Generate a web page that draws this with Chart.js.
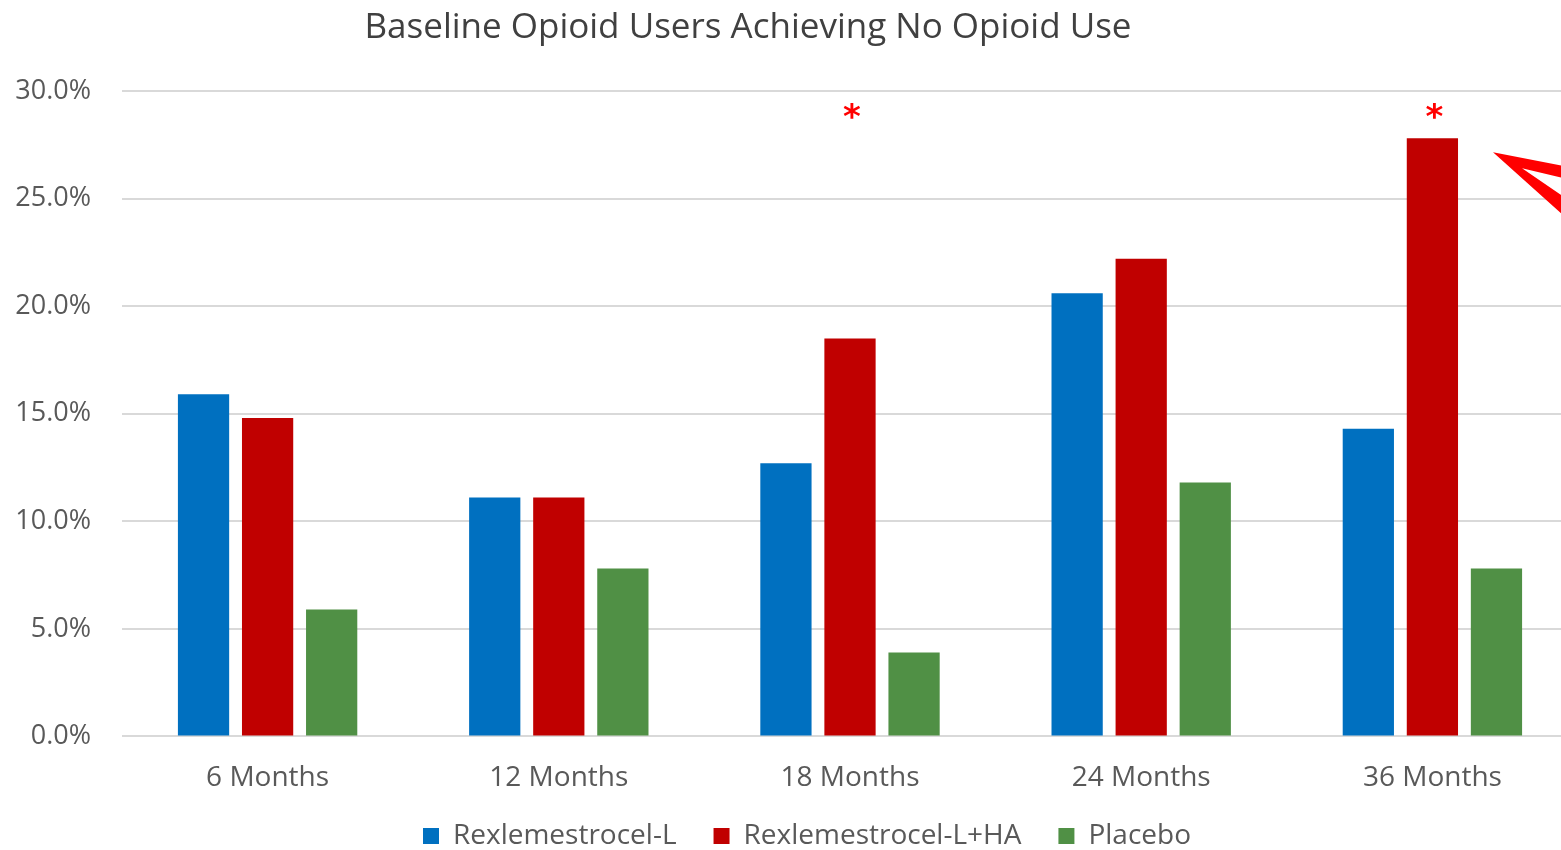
<!DOCTYPE html>
<html>
<head>
<meta charset="utf-8">
<script src="https://cdn.jsdelivr.net/npm/chart.js@4"></script>
<style>
  html, body { margin: 0; padding: 0; background: #fff; overflow: hidden; }
  #wrap { position: relative; width: 1614px; height: 850px; }
  #title {
    position: absolute; left: 0; top: 1px; width: 1496px; text-align: center;
    font-family: 'Open Sans', sans-serif; font-size: 35px; color: #404040;
  }
</style>
</head>
<body>
<div id="wrap">
  <div id="title">Baseline Opioid Users Achieving No Opioid Use</div>
  <canvas id="chart" width="1614" height="850"></canvas>
</div>
<script>
'use strict';

// ─── Data ────────────────────────────────────────────────────────────────────
const categories = ['6 Months', '12 Months', '18 Months', '24 Months', '36 Months'];
const rexL       = [15.9, 11.1, 12.7, 20.6, 14.3];
const rexLHA     = [14.8, 11.1, 18.5, 22.2, 27.8];
const placebo    = [5.9, 7.8, 3.9, 11.8, 7.8];
// categories where Rexlemestrocel-L+HA is flagged with an asterisk
const significant = [false, false, true, false, true];

const TEXT = '#595959';
const FONT = "'Open Sans', sans-serif";

// legend: wide horizontal gaps between items but a compact box vertically
const LEGEND_TRIM = 26;
const LEGEND_RAISE = 27;
const LEGEND_SHIFT_X = 18;
const legendTweak = {
  id: 'legendTweak',
  afterInit(chart) {
    const lg = chart.legend;
    const fit = lg.fit.bind(lg);
    lg.fit = function () { fit(); this.height -= LEGEND_TRIM; };
  },
  afterLayout(chart) {
    const lg = chart.legend;
    lg.top -= LEGEND_RAISE;
    lg.left += LEGEND_SHIFT_X;
    lg.right += LEGEND_SHIFT_X;
  },
};

// asterisks above the red bars + the hollow arrow pointing at the 36-month bar
const markers = {
  id: 'markers',
  afterDatasetsDraw(chart) {
    const { ctx, chartArea } = chart;
    const meta = chart.getDatasetMeta(1);
    ctx.save();
    ctx.fillStyle = '#ff0000';
    ctx.font = "bold 34px 'DejaVu Sans', sans-serif";
    ctx.textAlign = 'center';
    ctx.textBaseline = 'middle';
    significant.forEach((flag, i) => {
      if (!flag) return;
      const bar = meta.data[i];
      ctx.fillText('*', bar.x + 2, chartArea.top + 28);
    });

    // arrow head outline next to the last red bar (runs off the right edge)
    const last = meta.data[meta.data.length - 1];
    const tx = last.x + last.width / 2 + 35;
    const ty = last.y + 14;
    ctx.beginPath();
    ctx.moveTo(tx, ty);
    ctx.lineTo(tx + 90, ty + 17.5);
    ctx.lineTo(tx + 90, ty + 30.5);
    ctx.lineTo(tx + 29, ty + 16);
    ctx.lineTo(tx + 90, ty + 57.7);
    ctx.lineTo(tx + 90, ty + 80.6);
    ctx.closePath();
    ctx.fill();
    ctx.restore();
  },
};

new Chart(document.getElementById('chart').getContext('2d'), {
  type: 'bar',
  data: {
    labels: categories,
    datasets: [
      { label: 'Rexlemestrocel-L', data: rexL, backgroundColor: '#0070c0' },
      { label: 'Rexlemestrocel-L+HA', data: rexLHA, backgroundColor: '#c00000' },
      { label: 'Placebo', data: placebo, backgroundColor: '#509045' },
    ],
  },
  options: {
    responsive: false,
    animation: false,
    categoryPercentage: 0.66,
    barPercentage: 0.8,
    layout: { padding: { top: 91, right: 36, left: 0, bottom: -11 } },
    plugins: {
      title: { display: false },
      tooltip: { enabled: false },
      legend: {
        position: 'bottom',
        labels: {
          color: TEXT,
          font: { family: FONT, size: 28 },
          boxWidth: 16,
          boxHeight: 16,
          padding: 37,
        },
      },
    },
    scales: {
      x: {
        grid: { display: false },
        border: { display: false },
        ticks: { color: TEXT, font: { family: FONT, size: 28 }, padding: 17 },
      },
      y: {
        min: 0,
        max: 30,
        afterFit(scale) { scale.width = 122; },
        grid: { color: '#d9d9d9', lineWidth: 2, drawTicks: false },
        border: { display: false },
        ticks: {
          stepSize: 5,
          padding: 31,
          color: TEXT,
          font: { family: FONT, size: 27 },
          callback: v => v.toFixed(1) + '%',
        },
      },
    },
  },
  plugins: [legendTweak, markers],
});
</script>
</body>
</html>
